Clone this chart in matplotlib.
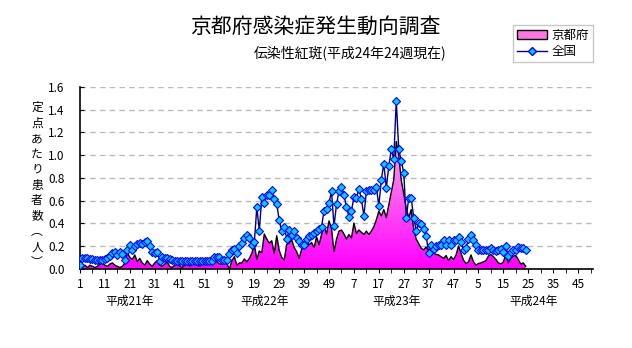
import numpy as np
import matplotlib
matplotlib.use("Agg")
import matplotlib.pyplot as plt
from matplotlib.colors import LinearSegmentedColormap
from matplotlib.patches import Patch
from matplotlib.lines import Line2D
import matplotlib.transforms as mtransforms

plt.rcParams['font.family'] = ['Noto Sans CJK JP', 'DejaVu Sans']

# ------------------------------------------------------------
#  Data: weekly cases per sentinel, 2009 wk1 .. 2012 wk24
# ------------------------------------------------------------
WEEKS_PER_YEAR = 52
YEAR_LABELS = ["平成21年", "平成22年", "平成23年", "平成24年"]
YEAR_LABEL_POS = [20, 74, 127, 182]

national = [
    # 2009
    0.03, 0.09, 0.09, 0.09, 0.085, 0.085, 0.08, 0.08, 0.075, 0.08,
    0.085, 0.09, 0.11, 0.14, 0.15, 0.12, 0.15, 0.13, 0.08, 0.16,
    0.21, 0.165, 0.20, 0.22, 0.225, 0.22, 0.23, 0.24, 0.20, 0.15,
    0.14, 0.15, 0.07, 0.10, 0.095, 0.09, 0.085, 0.08, 0.065, 0.07,
    0.07, 0.065, 0.07, 0.065, 0.065, 0.07, 0.065, 0.065, 0.07, 0.065,
    0.065, 0.07,
    # 2010
    0.065, 0.07, 0.10, 0.105, 0.10, 0.08, 0.08, 0.08, 0.125, 0.165,
    0.17, 0.14, 0.195, 0.225, 0.27, 0.30, 0.27, 0.21, 0.23, 0.54,
    0.335, 0.63, 0.58, 0.645, 0.65, 0.69, 0.61, 0.57, 0.425, 0.33,
    0.37, 0.265, 0.34, 0.30, 0.33, 0.27, 0.245, 0.21, 0.21, 0.26,
    0.29, 0.30, 0.31, 0.33, 0.35, 0.37, 0.51, 0.525, 0.58, 0.68,
    0.375, 0.565,
    # 2011
    0.685, 0.715, 0.645, 0.545, 0.455, 0.51, 0.63, 0.62, 0.705, 0.61,
    0.465, 0.68, 0.695, 0.69, 0.695, 0.72, 0.55, 0.785, 0.925, 0.71,
    0.905, 1.05, 0.965, 1.48, 1.05, 0.95, 0.845, 0.45, 0.62, 0.62,
    0.45, 0.335, 0.405, 0.395, 0.345, 0.29, 0.135, 0.21, 0.17, 0.20,
    0.21, 0.21, 0.25, 0.21, 0.255, 0.21, 0.25, 0.25, 0.28, 0.23,
    0.165, 0.185,
    # 2012
    0.26, 0.30, 0.25, 0.21, 0.16, 0.165, 0.16, 0.165, 0.16, 0.185,
    0.16, 0.155, 0.165, 0.17, 0.15, 0.195, 0.11, 0.15, 0.165, 0.16,
    0.19, 0.185, 0.185, 0.165,
]

kyoto = [
    # 2009
    0.0, 0.02, 0.03, 0.01, 0.03, 0.02, 0.01, 0.02, 0.04, 0.05,
    0.03, 0.02, 0.04, 0.05, 0.03, 0.02, 0.01, 0.02, 0.05, 0.14,
    0.10, 0.08, 0.12, 0.06, 0.09, 0.05, 0.03, 0.07, 0.04, 0.02,
    0.05, 0.07, 0.03, 0.02, 0.04, 0.06, 0.02, 0.01, 0.03, 0.05,
    0.02, 0.01, 0.03, 0.06, 0.02, 0.04, 0.05, 0.03, 0.02, 0.05,
    0.06, 0.04,
    # 2010
    0.05, 0.05, 0.06, 0.06, 0.04, 0.04, 0.05, 0.04, 0.0, 0.07,
    0.105, 0.03, 0.05, 0.05, 0.085, 0.06, 0.09, 0.135, 0.215, 0.08,
    0.155, 0.14, 0.305, 0.26, 0.225, 0.245, 0.135, 0.29, 0.16, 0.10,
    0.075, 0.215, 0.225, 0.255, 0.185, 0.15, 0.09, 0.17, 0.21, 0.24,
    0.21, 0.23, 0.185, 0.28, 0.21, 0.30, 0.375, 0.305, 0.42, 0.355,
    0.15, 0.26,
    # 2011
    0.33, 0.34, 0.305, 0.26, 0.30, 0.27, 0.40, 0.31, 0.34, 0.32,
    0.30, 0.33, 0.30, 0.33, 0.37, 0.43, 0.505, 0.465, 0.52, 0.45,
    0.56, 0.665, 0.785, 1.12, 1.0, 0.78, 0.66, 0.53, 0.45, 0.52,
    0.35, 0.26, 0.22, 0.18, 0.165, 0.19, 0.16, 0.15, 0.135, 0.125,
    0.12, 0.105, 0.09, 0.115, 0.07, 0.105, 0.08, 0.12, 0.20, 0.135,
    0.075, 0.045,
    # 2012
    0.06, 0.12, 0.06, 0.03, 0.045, 0.05, 0.06, 0.07, 0.11, 0.125,
    0.105, 0.08, 0.05, 0.04, 0.06, 0.12, 0.05, 0.09, 0.11, 0.115,
    0.08, 0.04, 0.05, 0.02,
]

x = np.arange(len(national))

# ------------------------------------------------------------
#  Figure
# ------------------------------------------------------------
fig = plt.figure(figsize=(6.32, 3.48), dpi=100)
ax = fig.add_axes([80 / 632, 1 - 268.6 / 348, 513 / 632, (268.6 - 87) / 348])

# Kyoto area with vertical gradient
poly = ax.fill_between(x, kyoto, 0, color="none", zorder=1)
grad = np.linspace(0, 1, 256).reshape(-1, 1)
cmap = LinearSegmentedColormap.from_list("pk", ["#FF00FF", "#FFA6E6"])
im = ax.imshow(grad, extent=[0, len(x) - 1, 0, 1.15], origin="lower",
               aspect="auto", cmap=cmap, zorder=1)
im.set_clip_path(poly.get_paths()[0], transform=ax.transData)
ax.plot(x, kyoto, color="black", lw=1.0, zorder=2)

# national line
ax.plot(x, national, color="#000080", lw=1.0, marker="D", markersize=4.2,
        markerfacecolor="#00CCFF", markeredgecolor="#0000FF",
        markeredgewidth=0.8, zorder=3)

ax.set_xlim(0, 206)
ax.set_ylim(0, 1.6)

# grid
for v in np.arange(0.2, 1.61, 0.2):
    ax.axhline(v, color="#BBBBBB", lw=1.0, ls=(0, (4, 3)), zorder=0)

for s in ["top", "right"]:
    ax.spines[s].set_visible(False)
ax.spines["left"].set_linewidth(1.2)
ax.spines["bottom"].set_linewidth(1.2)

ax.set_yticks(np.arange(0, 1.61, 0.2))
ax.set_yticklabels([f"{v:.1f}" for v in np.arange(0, 1.61, 0.2)], fontsize=8.5)
ax.tick_params(axis="y", direction="in", length=3, pad=11)

major = np.arange(0, 206, 10)
ax.set_xticks(major)
ax.set_xticklabels([str(i % WEEKS_PER_YEAR + 1) for i in major], fontsize=8.5)
ax.set_xticks(np.arange(5, 206, 10), minor=True)
ax.tick_params(axis="x", which="both", direction="out", length=3, pad=4)

# year labels
trans = mtransforms.blended_transform_factory(ax.transData, fig.transFigure)
for pos, lab in zip(YEAR_LABEL_POS, YEAR_LABELS):
    ax.text(pos, 1 - 301 / 348, lab, transform=trans, ha="center",
            va="center", fontsize=8.5)

# vertical y label
ylab = "定点あたり患者数︵人︶"
fig.text(37 / 632, 1 - 185 / 348, "\n".join(ylab), ha="center", va="center",
         fontsize=8.5, linespacing=1.25)

# titles
fig.text(315 / 632, 1 - 27 / 348, "京都府感染症発生動向調査", ha="center",
         va="center", fontsize=15)
fig.text(350 / 632, 1 - 53 / 348, "伝染性紅斑(平成24年24週現在)", ha="center",
         va="center", fontsize=10)

# legend
handles = [
    Patch(facecolor="#FF77E0", edgecolor="black", linewidth=1.0),
    Line2D([], [], color="#000080", lw=1.0, marker="D", markersize=4,
           markerfacecolor="#00CCFF", markeredgecolor="#0000FF"),
]
leg = fig.legend(handles, ["京都府", "全国"], loc="upper left",
                 bbox_to_anchor=(513 / 632, 1 - 25 / 348), fontsize=9,
                 frameon=True, fancybox=False, borderpad=0.3,
                 borderaxespad=0, handlelength=2.4, handletextpad=0.4,
                 labelspacing=0.25)
leg.get_frame().set_edgecolor("#BBBBBB")
leg.get_frame().set_linewidth(1.0)

fig.savefig("out.png", dpi=100)
